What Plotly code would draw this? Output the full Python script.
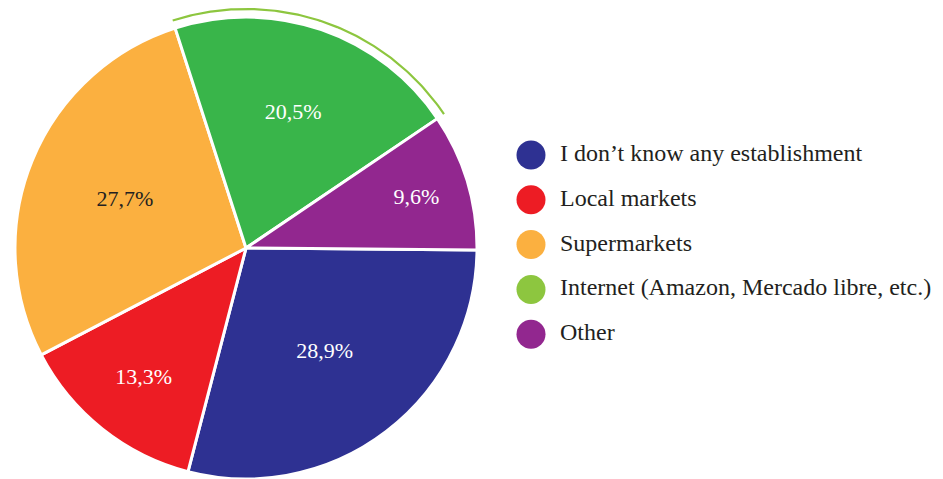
import numpy as np
import plotly.graph_objects as go

categories = ["I don\u2019t know any establishment", "Local markets", "Supermarkets",
              "Internet (Amazon, Mercado libre, etc.)", "Other"]
values = [28.9, 13.3, 27.7, 20.5, 9.6]
slice_colors = ["#2E3192", "#ED1C24", "#FBB040", "#39B54A", "#92278F"]
legend_colors = ["#2E3192", "#ED1C24", "#FBB040", "#8DC63F", "#92278F"]
text_colors = ["#FFFFFF", "#FFFFFF", "#231F20", "#FFFFFF", "#FFFFFF"]

W, H = 943, 479
OFF = 8  # page body margin
CX, CY, R = 246 - OFF, 248 - OFF, 231
ROT = 90.5
FONT = "Liberation Serif"

fig = go.Figure()

fig.add_trace(go.Pie(
    labels=categories, values=values, sort=False, direction="clockwise",
    rotation=ROT,
    marker=dict(colors=slice_colors, line=dict(color="white", width=3)),
    texttemplate="%{percent:.1%}", textposition="inside",
    insidetextorientation="horizontal",
    textfont=dict(family=FONT, size=22, color=text_colors),
    domain=dict(x=[(CX - R) / W, (CX + R) / W], y=[(H - CY - R) / H, (H - CY + R) / H]),
    showlegend=False, hoverinfo="label+percent",
))

# light-green arc outlining the Internet slice (angles derived from the data)
tot = sum(values)
cum = np.cumsum([0] + values)
i_int = 3
a0 = np.deg2rad(ROT + cum[i_int] / tot * 360)
a1 = np.deg2rad(ROT + cum[i_int + 1] / tot * 360)
t = np.linspace(a0, a1, 120)
RA = R + 8
fig.add_trace(go.Scatter(
    x=CX + RA * np.sin(t), y=CY - RA * np.cos(t), mode="lines",
    line=dict(color="#8DC63F", width=2.2), hoverinfo="skip", showlegend=False,
))

# custom legend with circle markers
LX, LY0, LDY = 531 - OFF, 155 - OFF, 44.8
ly = [LY0 + LDY * i for i in range(len(categories))]
fig.add_trace(go.Scatter(
    x=[LX] * len(categories), y=ly, mode="markers",
    marker=dict(size=29, color=legend_colors, line=dict(width=0)),
    hoverinfo="skip", showlegend=False,
))
fig.add_trace(go.Scatter(
    x=[LX + 29] * len(categories), y=ly, mode="text", text=categories,
    textposition="middle right",
    textfont=dict(family=FONT, size=24, color="#231F20"),
    hoverinfo="skip", showlegend=False,
))

fig.update_layout(
    width=W, height=H, margin=dict(l=0, r=0, t=0, b=0),
    paper_bgcolor="white", plot_bgcolor="white", separators=",.",
    xaxis=dict(range=[0, W], visible=False, domain=[0, 1], fixedrange=True),
    yaxis=dict(range=[H, 0], visible=False, domain=[0, 1], fixedrange=True),
    showlegend=False,
)

fig.write_html("out.html")
